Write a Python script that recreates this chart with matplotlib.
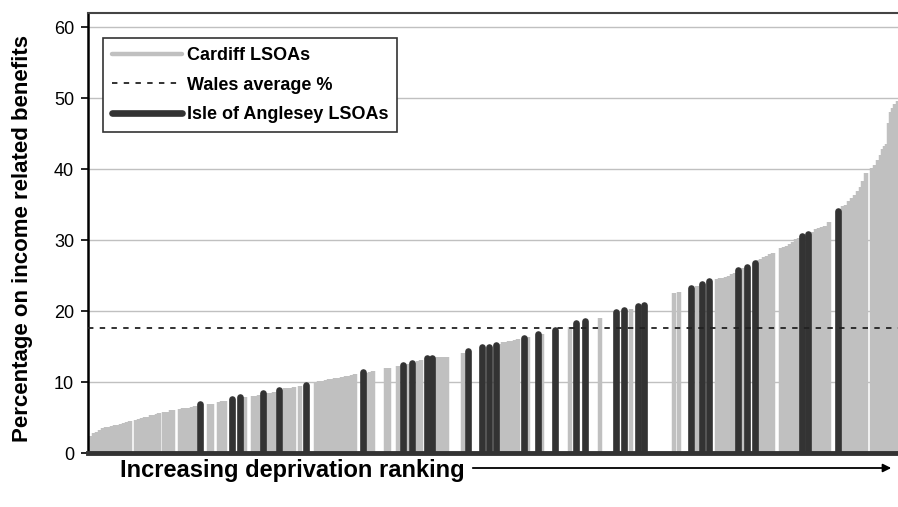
import matplotlib.pyplot as plt

plt.rcParams['font.family'] = ['Liberation Sans', 'DejaVu Sans']

# rank of each LSOA in the Wales deprivation ranking (1..1896) and % on income benefits
cardiff_rank = [1, 7, 14, 21, 28, 35, 42, 49, 56, 63, 70, 77, 84, 91, 98,
                112, 119, 126, 133, 140, 147, 154, 161, 166,
                176, 183, 194, 199,
                215, 222, 229, 234, 243, 250,
                283, 290, 307, 314, 321, 367,
                386, 393, 400, 421, 428, 435,
                461, 468, 475, 482, 496,
                534, 541, 548, 557, 564, 571, 578, 587, 594,
                604, 611, 618, 625, 653, 660, 667,
                697, 704, 725, 746, 772, 779,
                817, 824, 831, 840, 878,
                964, 971, 978, 985, 992, 999, 1006, 1030, 1062,
                1128, 1198, 1271, 1371, 1385, 1427,
                1474, 1481, 1488, 1495, 1502, 1509, 1516, 1533,
                1570, 1577, 1584, 1591, 1598, 1603,
                1622, 1629, 1636, 1645, 1652, 1659, 1664,
                1697, 1704, 1711, 1718, 1725, 1736,
                1769, 1776, 1783, 1790, 1797, 1804, 1811, 1816, 1821,
                1835, 1842, 1849, 1856, 1863, 1867, 1872, 1877, 1881, 1886, 1891, 1896]
cardiff_pct = [2.1, 2.4, 2.8, 3.0, 3.3, 3.5, 3.6, 3.6, 3.8, 3.9, 4.0, 4.1, 4.2, 4.4, 4.5,
               4.6, 4.8, 5.0, 5.1, 5.1, 5.3, 5.4, 5.5, 5.6,
               5.8, 5.8, 6.0, 6.1,
               6.2, 6.3, 6.3, 6.3, 6.5, 6.6,
               6.9, 6.9, 7.2, 7.3, 7.3, 7.9,
               8.0, 8.0, 8.2, 8.5, 8.5, 8.6,
               9.1, 9.2, 9.2, 9.3, 9.5,
               10.0, 10.1, 10.1, 10.3, 10.4, 10.4, 10.5, 10.6, 10.7,
               10.9, 10.9, 11.0, 11.1, 11.3, 11.4, 11.5,
               12.0, 12.0, 12.2, 12.5, 13.0, 13.1,
               13.5, 13.5, 13.5, 13.5, 14.1,
               15.4, 15.6, 15.7, 15.8, 15.8, 15.9, 16.0, 16.3, 16.8,
               17.8, 19.0, 20.3, 22.5, 22.7, 23.5,
               24.5, 24.6, 24.7, 24.8, 25.0, 25.2, 25.3, 26.0,
               27.2, 27.4, 27.6, 27.8, 28.0, 28.2,
               28.9, 29.0, 29.2, 29.4, 29.8, 30.1, 30.3,
               31.2, 31.5, 31.7, 31.8, 32.0, 32.6,
               34.8, 35.0, 35.5, 35.9, 36.4, 36.9, 37.5, 38.3, 39.4,
               40.1, 40.6, 41.3, 42.0, 42.8, 43.2, 43.6, 46.5, 48.0, 48.6, 49.2, 49.6]

anglesey_rank = [262, 337, 356, 410, 447, 510, 644, 737, 758, 793, 805,
                 889, 922, 938, 955, 1020, 1053, 1093, 1142, 1163,
                 1236, 1254, 1287, 1301, 1413, 1437, 1455, 1523, 1544, 1563,
                 1673, 1685, 1757]
anglesey_pct = [6.9, 7.6, 7.9, 8.4, 8.9, 9.6, 11.4, 12.4, 12.7, 13.4, 13.4,
                14.4, 14.9, 15.0, 15.2, 16.2, 16.7, 17.4, 18.3, 18.6,
                19.9, 20.1, 20.7, 20.9, 23.3, 23.8, 24.3, 25.8, 26.2, 26.8,
                30.6, 30.8, 34.1]

wales_avg = 17.6
yticks = [0, 10, 20, 30, 40, 50, 60]

fig = plt.figure(figsize=(8.98, 5.07), dpi=100)
ax = fig.add_axes([88 / 898, 54 / 507, 810 / 898, 440 / 507])

ax.set_xlim(-1, 1897)
ax.set_ylim(0, 62)

for y in yticks[1:]:
    ax.axhline(y, color='#C0C0C0', lw=1.0, zorder=1)

vc = ax.vlines(cardiff_rank, 0, cardiff_pct, color='#C0C0C0', lw=3.2, zorder=2)
va = ax.vlines(anglesey_rank, 0, anglesey_pct, color='#333333', lw=4.8, zorder=3)
va.set_capstyle('round')

ax.axhline(wales_avg, color='#222222', lw=1.3, ls=(0, (3, 3.5)), zorder=4)
ax.axhline(0, color='#333333', lw=3.5, zorder=5, clip_on=False)

# legend proxies
h1, = ax.plot([], [], color='#C0C0C0', lw=3.2, solid_capstyle='round')
h2, = ax.plot([], [], color='#222222', lw=1.3, ls=(0, (3, 3.5)))
h3, = ax.plot([], [], color='#333333', lw=4.8, solid_capstyle='round')
leg = ax.legend([h1, h2, h3], ['Cardiff LSOAs', 'Wales average %', 'Isle of Anglesey LSOAs'],
                loc='upper left', bbox_to_anchor=(0.0185, 0.943), borderaxespad=0,
                fancybox=False, framealpha=1, edgecolor='#333333',
                prop={'weight': 'bold', 'size': 13},
                handlelength=3.9, handletextpad=0.25, labelspacing=0.7,
                borderpad=0.5)
leg.get_frame().set_linewidth(1.2)
leg.set_zorder(10)

ax.set_yticks(yticks)
ax.set_xticks([])
ax.tick_params(axis='y', labelsize=13, length=5, width=1.2, pad=5)
ax.spines['left'].set_linewidth(1.8)
ax.spines['top'].set_linewidth(1.5)
ax.spines['top'].set_color('#444444')
ax.spines['right'].set_visible(False)
ax.spines['bottom'].set_visible(False)

fig.text(0.025, 0.53, 'Percentage on income related benefits', rotation=90,
         ha='center', va='center', fontsize=16, fontweight='bold')
fig.text(120 / 898, 1 - 470 / 507, 'Increasing deprivation ranking',
         ha='left', va='center', fontsize=17, fontweight='bold')
fig.add_artist(plt.matplotlib.patches.FancyArrowPatch(
    (470 / 898, 1 - 468 / 507), (894 / 898, 1 - 468 / 507),
    transform=fig.transFigure, arrowstyle='-|>', mutation_scale=12,
    color='black', lw=1.3))

fig.savefig('out.png', dpi=100)
